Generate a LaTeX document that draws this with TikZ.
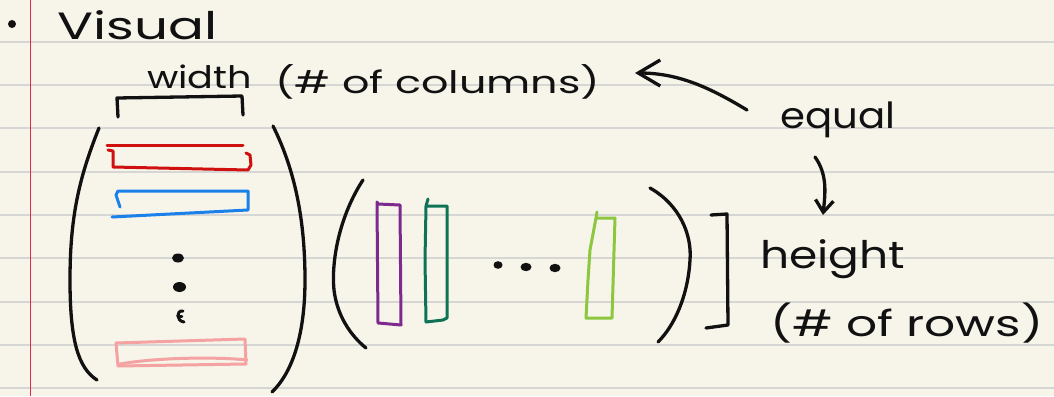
\documentclass[tikz,border=0pt]{standalone}
\usepackage{fontspec}
\setmainfont{Poppins}
\usetikzlibrary{arrows.meta}
\definecolor{paper}{HTML}{F7F5EA}
\definecolor{rule}{HTML}{D6D6D4}
\definecolor{margin}{HTML}{E3284A}
\definecolor{ink}{HTML}{111111}
\definecolor{penred}{HTML}{D0100F}
\definecolor{penblue}{HTML}{1A80EA}
\definecolor{penpink}{HTML}{F5A2A2}
\definecolor{penpurple}{HTML}{7D2A8F}
\definecolor{penteal}{HTML}{0E7356}
\definecolor{penlime}{HTML}{8DC63F}
\newcommand\hwfit[2]{\resizebox{#1}{\height}{#2}}
\begin{document}
\begin{tikzpicture}[x=1pt,y=-1pt,
  inkline/.style={draw=ink,line width=3.3pt,line cap=round,line join=round},
  penline/.style={line width=3pt,line cap=round,line join=round},
  hand/.style={anchor=base west,inner sep=0pt,text=ink}]
\useasboundingbox (0,0) rectangle (1054,396);
\fill[paper] (0,0) rectangle (1054,396);
% ruled lines
\foreach \k in {0,...,8}{
  \draw[rule,line width=2pt] (0,41.7+43.33*\k) -- (1054,41.7+43.33*\k);
}
\draw[margin,line width=1.4pt] (30.5,0) -- (30.5,396);
% bullet
\fill[ink] (12,24) circle (4);
% texts
\node[hand,font=\fontsize{38}{44}\selectfont] (visual) at (57,40) {\hwfit{160pt}{Visual}};
\node[hand,font=\fontsize{31}{36}\selectfont] (width) at (147,88) {\hwfit{105pt}{width}};
\node[hand,font=\fontsize{31}{36}\selectfont] (cols) at (275,93) {\hwfit{325pt}{(\# of columns)}};
\node[hand,font=\fontsize{36}{42}\selectfont] (equal) at (780,128) {\hwfit{115pt}{equal}};
\node[hand,font=\fontsize{38}{44}\selectfont] (height) at (760,268) {\hwfit{145pt}{height}};
\node[hand,font=\fontsize{36}{42}\selectfont] (rows) at (770,336) {\hwfit{273pt}{(\# of rows)}};
% bracket over the first matrix
\draw[inkline] (118,117) -- (117,98) -- (242,96) -- (243,115);
% first matrix parentheses
\draw[inkline] (99,128) .. controls (78,180) and (70,220) .. (70,280) .. controls (70,340) and (78,368) .. (97,380);
\draw[inkline] (273,126) .. controls (295,170) and (305,220) .. (305,280) .. controls (305,340) and (290,375) .. (272,392);
% rows of the first matrix
\draw[penline,penred] (107,145) -- (243,145);
\draw[penline,penred] (108,150) -- (113,151) -- (113,167) -- (248,170) -- (251,165) -- (250,155) -- (246,153);
\draw[penline,penblue] (120,207) -- (116,195) -- (118,191) -- (248,191) -- (248,210) -- (112,217);
\draw[penline,penpink] (116,343) -- (245,339) -- (246,364) -- (118,366) -- cycle;
\draw[penline,penpink] (120,364) .. controls (160,357) and (220,357) .. (247,360);
% vertical dots
\fill[ink] (178,258) ellipse (6 and 4.5);
\fill[ink] (179.5,287) ellipse (6.5 and 5);
\draw[ink,line width=3pt,line cap=round] (183,311) .. controls (176,310) and (176,321) .. (184,322);
\draw[ink,line width=2.5pt,line cap=round] (178,316.5) -- (182,316.5);
% second matrix parentheses
\draw[inkline] (363,180) .. controls (340,215) and (331,260) .. (334,290) .. controls (337,315) and (350,335) .. (366,348);
\draw[inkline] (650,188) .. controls (680,205) and (692,235) .. (690,260) .. controls (688,295) and (675,325) .. (658,342);
% columns of the second matrix
\draw[penline,penpurple] (377,202) -- (378,204) -- (400,205) -- (401,325) -- (378,323) -- cycle;
\draw[penline,penteal] (428,199) -- (426,206) -- (447,206) -- (447,318) -- (443,320) -- (426,322) -- (425,260) -- (426,206);
\draw[penline,penlime] (597,212) -- (596,218) -- (615,218) -- (612,318) -- (586,318) -- (588,280) -- (590,250) -- (596,218);
% horizontal dots
\fill[ink] (498,265) ellipse (4.5 and 3.8);
\fill[ink] (526,267) ellipse (5.5 and 4.2);
\fill[ink] (555,268) ellipse (5.5 and 4.2);
% right bracket
\draw[inkline] (711,215) -- (727,214) -- (728,325) -- (706,328);
% arrows
\coordinate (eqL) at (747,110);
\coordinate (colR) at (635,73);
\coordinate (eqB) at (815,157);
\coordinate (htT) at (823,215);
\draw[inkline,-{Straight Barb[length=22pt,width=26pt]}] (eqL) .. controls (712,89) and (680,73) .. (colR);
\draw[inkline,-{Straight Barb[length=12pt,width=18pt]}] (eqB) .. controls (828,175) and (825,195) .. (htT);
\end{tikzpicture}
\end{document}
